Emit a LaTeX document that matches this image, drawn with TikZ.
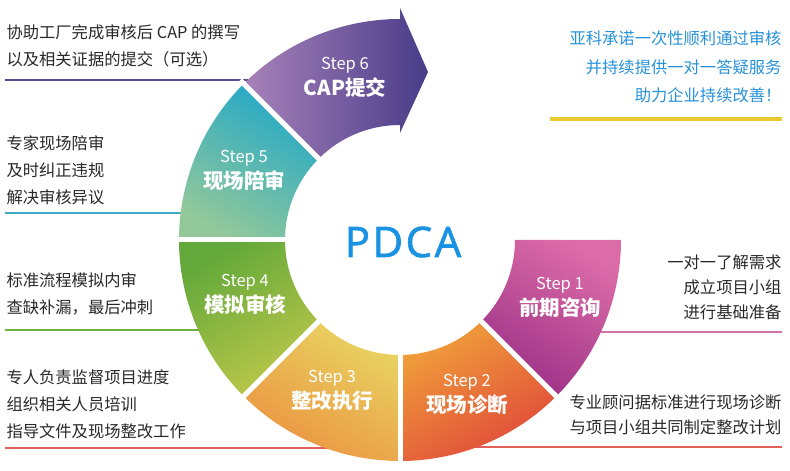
\documentclass[tikz,border=0pt]{standalone}
\usepackage{fontspec}
\setmainfont{Noto Sans CJK SC}
\newfontfamily\pdcafont[FakeBold=1.6]{Open Sans}
\usetikzlibrary{positioning}

\definecolor{pdcablue}{RGB}{26,146,226}
\definecolor{noteblue}{RGB}{40,146,216}
\definecolor{textgrey}{RGB}{40,40,40}
\definecolor{pinklight}{RGB}{220,108,168}
\definecolor{pinkdark}{RGB}{156,48,134}
\definecolor{orangelight}{RGB}{240,160,58}
\definecolor{reddark}{RGB}{224,72,58}
\definecolor{yellowlight}{RGB}{232,212,98}
\definecolor{orangedark}{RGB}{236,146,64}
\definecolor{greendark}{RGB}{98,168,58}
\definecolor{greenlight}{RGB}{190,200,74}
\definecolor{tealdark}{RGB}{34,168,200}
\definecolor{teallight}{RGB}{146,200,154}
\definecolor{purplelight}{RGB}{168,130,186}
\definecolor{purpledark}{RGB}{72,60,136}
\definecolor{rulepurple}{RGB}{90,74,144}
\definecolor{ruleteal}{RGB}{64,168,192}
\definecolor{rulegreen}{RGB}{112,176,64}
\definecolor{rulered}{RGB}{226,96,90}
\definecolor{rulepink}{RGB}{210,112,168}
\definecolor{ruleyellow}{RGB}{234,202,48}

\begin{document}
\begin{tikzpicture}[x=1pt, y=1pt,
		steplabel/.style={
			text=white,
			align=center,
			font=\fontsize{16.5}{26}\selectfont
		},
		note/.style={
			anchor=west,
			align=left,
			text=textgrey,
			font=\fontsize{16.3}{27}\selectfont
		},
		noteright/.style={
			anchor=east,
			align=right,
			text=textgrey,
			font=\fontsize{16.3}{25}\selectfont
		},
		rule/.style={line width=1.6pt},
		gap/.style={white, line width=5pt}]

		\useasboundingbox (0,0) rectangle (790,471);
		\coordinate (O) at (400,231);

		% rules under the notes
		\draw [rule, rulepurple] (5,391) -- (248,391);
		\draw [rule, ruleteal] (5,258) -- (188,258);
		\draw [rule, rulegreen] (5,141) -- (203,141);
		\draw [rule, rulered] (5,23) -- (328,23);
		\draw [rule, rulepink] (598,139) -- (782,139);
		\draw [rule, rulered] (470,24) -- (782,24);
		\draw [line width=4pt, ruleyellow] (550,352) -- (782,352);

		% ring segments
		\shade [top color=pinklight, bottom color=pinkdark, shading angle=-30]
			([shift={(0:221)}]O) arc[start angle=0, end angle=-45, radius=221]
			-- ([shift={(-45:115)}]O) arc[start angle=-45, end angle=0, radius=115] -- cycle;
		\shade [left color=orangelight, right color=reddark, shading angle=30]
			([shift={(-45:221)}]O) arc[start angle=-45, end angle=-90, radius=221]
			-- ([shift={(-90:115)}]O) arc[start angle=-90, end angle=-45, radius=115] -- cycle;
		\shade [left color=yellowlight, right color=orangedark, shading angle=-30]
			([shift={(-90:221)}]O) arc[start angle=-90, end angle=-135, radius=221]
			-- ([shift={(-135:115)}]O) arc[start angle=-135, end angle=-90, radius=115] -- cycle;
		\shade [top color=greendark, bottom color=greenlight, shading angle=30]
			([shift={(-135:221)}]O) arc[start angle=-135, end angle=-180, radius=221]
			-- ([shift={(180:115)}]O) arc[start angle=180, end angle=225, radius=115] -- cycle;
		\shade [top color=tealdark, bottom color=teallight, shading angle=-30]
			([shift={(180:221)}]O) arc[start angle=180, end angle=135, radius=221]
			-- ([shift={(135:115)}]O) arc[start angle=135, end angle=180, radius=115] -- cycle;
		\shade [left color=purplelight, right color=purpledark]
			([shift={(135:221)}]O) arc[start angle=135, end angle=90, radius=221]
			-- (400,463) -- (428,399) -- (400,338)
			-- ([shift={(90:115)}]O) arc[start angle=90, end angle=135, radius=115] -- cycle;

		% white gaps between segments
		\draw [gap] ([shift={(-45:110)}]O) -- ([shift={(-45:226)}]O);
		\draw [gap] ([shift={(-90:110)}]O) -- ([shift={(-90:226)}]O);
		\draw [gap] ([shift={(-135:110)}]O) -- ([shift={(-135:226)}]O);
		\draw [gap] ([shift={(180:110)}]O) -- ([shift={(180:226)}]O);
		\draw [gap] ([shift={(135:110)}]O) -- ([shift={(135:226)}]O);

		\node [text=pdcablue, font=\pdcafont\fontsize{42}{42}\selectfont\addfontfeature{LetterSpace=6}] (pdca) at (403,229) {PDCA};

		% step labels
		\node [steplabel] (plan) at (560,174) {Step 1\\{\fontsize{20.5}{24}\selectfont\bfseries 前期咨询}};
		\node [steplabel] (check) at (467,77) {Step 2\\{\fontsize{20.5}{24}\selectfont\bfseries 现场诊断}};
		\node [steplabel] (act) at (332,81) {Step 3\\{\fontsize{20.5}{24}\selectfont\bfseries 整改执行}};
		\node [steplabel] (mock) at (245,177) {Step 4\\{\fontsize{20.5}{24}\selectfont\bfseries 模拟审核}};
		\node [steplabel] (onsite) at (244,301) {Step 5\\{\fontsize{20.5}{24}\selectfont\bfseries 现场陪审}};
		\node [steplabel] (cap) at (345,394) {Step 6\\{\fontsize{20.5}{24}\selectfont\bfseries CAP提交}};

		% notes
		\node [note] (capnote) at (3,425) {协助工厂完成审核后 CAP 的撰写\\以及相关证据的提交（可选）};
		\node [note] (onsitenote) at (3,301) {专家现场陪审\\及时纠正违规\\解决审核异议};
		\node [note] (mocknote) at (3,177) {标准流程模拟内审\\查缺补漏，最后冲刺};
		\node [note] (actnote) at (3,67) {专人负责监督项目进度\\组织相关人员培训\\指导文件及现场整改工作};
		\node [noteright] (plannote) at (785,184) {一对一了解需求\\成立项目小组\\进行基础准备};
		\node [noteright] (checknote) at (785,56) {专业顾问据标准进行现场诊断\\与项目小组共同制定整改计划};
		\node [noteright, text=noteblue, font=\fontsize{16.3}{28.5}\selectfont] (promise) at (785,404) {亚科承诺一次性顺利通过审核\\并持续提供一对一答疑服务\\助力企业持续改善！};
	\end{tikzpicture}
\end{document}
